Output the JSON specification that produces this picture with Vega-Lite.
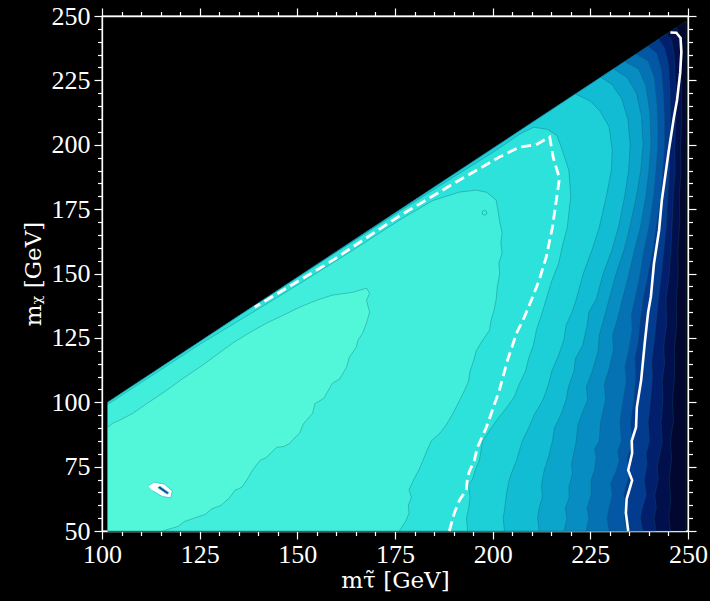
{
  "$schema": "https://vega.github.io/schema/vega-lite/v6.json",
  "background": "black",
  "autosize": "none",
  "padding": {"left": 102, "top": 16, "right": 22, "bottom": 70},
  "width": 586,
  "height": 515,
  "config": {
    "view": {"stroke": "white", "strokeWidth": 1.3},
    "axis": {
      "grid": false,
      "domainColor": "white",
      "domainWidth": 1.3,
      "tickColor": "white",
      "tickWidth": 1.2,
      "labelColor": "white",
      "labelFont": "Liberation Serif",
      "labelFontSize": 26,
      "titleColor": "white",
      "titleFont": "DejaVu Serif",
      "titleFontSize": 23,
      "titleFontWeight": "normal",
      "labelOverlap": false,
      "labelFlush": false,
      "format": "d"
    }
  },
  "datasets": {
    "bands": [
      {"band": "L12", "i": 0, "x": 101.5, "y": 50}, {"band": "L12", "i": 1, "x": 249.5, "y": 50}, {"band": "L12", "i": 2, "x": 249.5, "y": 248}, {"band": "L12", "i": 3, "x": 101.5, "y": 100},

      {"band": "L11", "i": 0, "x": 101.5, "y": 50}, {"band": "L11", "i": 1, "x": 245.5, "y": 50}, {"band": "L11", "i": 2, "x": 245.1, "y": 56}, {"band": "L11", "i": 3, "x": 245.6, "y": 62}, {"band": "L11", "i": 4, "x": 245.2, "y": 70}, {"band": "L11", "i": 5, "x": 245.8, "y": 78}, {"band": "L11", "i": 6, "x": 245.5, "y": 85}, {"band": "L11", "i": 7, "x": 246.3, "y": 93}, {"band": "L11", "i": 8, "x": 246, "y": 101}, {"band": "L11", "i": 9, "x": 246.6, "y": 110}, {"band": "L11", "i": 10, "x": 246.5, "y": 120}, {"band": "L11", "i": 11, "x": 247.1, "y": 130}, {"band": "L11", "i": 12, "x": 247, "y": 140}, {"band": "L11", "i": 13, "x": 247.5, "y": 150}, {"band": "L11", "i": 14, "x": 247.4, "y": 159}, {"band": "L11", "i": 15, "x": 247.9, "y": 170}, {"band": "L11", "i": 16, "x": 247.8, "y": 180}, {"band": "L11", "i": 17, "x": 248.2, "y": 190}, {"band": "L11", "i": 18, "x": 248.1, "y": 200}, {"band": "L11", "i": 19, "x": 248.4, "y": 210}, {"band": "L11", "i": 20, "x": 248.3, "y": 220}, {"band": "L11", "i": 21, "x": 248.2, "y": 234}, {"band": "L11", "i": 22, "x": 247.8, "y": 241}, {"band": "L11", "i": 23, "x": 247.2, "y": 245.2}, {"band": "L11", "i": 24, "x": 246.6, "y": 245.1}, {"band": "L11", "i": 25, "x": 101.5, "y": 100},

      {"band": "L10", "i": 0, "x": 101.5, "y": 50}, {"band": "L10", "i": 1, "x": 241.8, "y": 50}, {"band": "L10", "i": 2, "x": 241.3, "y": 55}, {"band": "L10", "i": 3, "x": 241.9, "y": 59}, {"band": "L10", "i": 4, "x": 241.5, "y": 64}, {"band": "L10", "i": 5, "x": 242.4, "y": 70}, {"band": "L10", "i": 6, "x": 242.1, "y": 75}, {"band": "L10", "i": 7, "x": 242.8, "y": 80}, {"band": "L10", "i": 8, "x": 243.4, "y": 85}, {"band": "L10", "i": 9, "x": 243.1, "y": 92}, {"band": "L10", "i": 10, "x": 243.6, "y": 101}, {"band": "L10", "i": 11, "x": 243.4, "y": 108}, {"band": "L10", "i": 12, "x": 244, "y": 115}, {"band": "L10", "i": 13, "x": 243.8, "y": 122}, {"band": "L10", "i": 14, "x": 244.5, "y": 130}, {"band": "L10", "i": 15, "x": 244.4, "y": 140}, {"band": "L10", "i": 16, "x": 245.1, "y": 148}, {"band": "L10", "i": 17, "x": 245.6, "y": 159}, {"band": "L10", "i": 18, "x": 245.9, "y": 168}, {"band": "L10", "i": 19, "x": 246.2, "y": 180}, {"band": "L10", "i": 20, "x": 246.7, "y": 190}, {"band": "L10", "i": 21, "x": 246.6, "y": 200}, {"band": "L10", "i": 22, "x": 246.9, "y": 211}, {"band": "L10", "i": 23, "x": 246.8, "y": 222}, {"band": "L10", "i": 24, "x": 246.5, "y": 234}, {"band": "L10", "i": 25, "x": 245.8, "y": 240.5}, {"band": "L10", "i": 26, "x": 244.5, "y": 243}, {"band": "L10", "i": 27, "x": 101.5, "y": 100},

      {"band": "L9", "i": 0, "x": 101.5, "y": 50}, {"band": "L9", "i": 1, "x": 238.4, "y": 50}, {"band": "L9", "i": 2, "x": 237.8, "y": 55}, {"band": "L9", "i": 3, "x": 238.3, "y": 59}, {"band": "L9", "i": 4, "x": 239.3, "y": 64}, {"band": "L9", "i": 5, "x": 238.8, "y": 69.7}, {"band": "L9", "i": 6, "x": 239.5, "y": 76}, {"band": "L9", "i": 7, "x": 239.3, "y": 80}, {"band": "L9", "i": 8, "x": 240.1, "y": 85}, {"band": "L9", "i": 9, "x": 239.8, "y": 92}, {"band": "L9", "i": 10, "x": 240.4, "y": 101}, {"band": "L9", "i": 11, "x": 240.9, "y": 110}, {"band": "L9", "i": 12, "x": 240.7, "y": 116}, {"band": "L9", "i": 13, "x": 241.4, "y": 124}, {"band": "L9", "i": 14, "x": 241.9, "y": 132}, {"band": "L9", "i": 15, "x": 242.4, "y": 140}, {"band": "L9", "i": 16, "x": 243.2, "y": 150}, {"band": "L9", "i": 17, "x": 243.8, "y": 159}, {"band": "L9", "i": 18, "x": 244.4, "y": 168}, {"band": "L9", "i": 19, "x": 244.8, "y": 180}, {"band": "L9", "i": 20, "x": 245.2, "y": 190}, {"band": "L9", "i": 21, "x": 245.3, "y": 200}, {"band": "L9", "i": 22, "x": 245.5, "y": 210}, {"band": "L9", "i": 23, "x": 245.4, "y": 220}, {"band": "L9", "i": 24, "x": 245, "y": 231}, {"band": "L9", "i": 25, "x": 244, "y": 237.5}, {"band": "L9", "i": 26, "x": 242.5, "y": 241}, {"band": "L9", "i": 27, "x": 101.5, "y": 100},

      {"band": "L8", "i": 0, "x": 101.5, "y": 50}, {"band": "L8", "i": 1, "x": 234.5, "y": 50}, {"band": "L8", "i": 2, "x": 233.6, "y": 55}, {"band": "L8", "i": 3, "x": 234.1, "y": 59}, {"band": "L8", "i": 4, "x": 233.5, "y": 64}, {"band": "L8", "i": 5, "x": 234.9, "y": 72}, {"band": "L8", "i": 6, "x": 234.4, "y": 78}, {"band": "L8", "i": 7, "x": 235.7, "y": 85}, {"band": "L8", "i": 8, "x": 235.3, "y": 92}, {"band": "L8", "i": 9, "x": 236.1, "y": 101}, {"band": "L8", "i": 10, "x": 236.6, "y": 110}, {"band": "L8", "i": 11, "x": 236.4, "y": 117}, {"band": "L8", "i": 12, "x": 237.3, "y": 124}, {"band": "L8", "i": 13, "x": 237.8, "y": 132}, {"band": "L8", "i": 14, "x": 238.5, "y": 140}, {"band": "L8", "i": 15, "x": 239.8, "y": 150}, {"band": "L8", "i": 16, "x": 241, "y": 159}, {"band": "L8", "i": 17, "x": 241.8, "y": 168}, {"band": "L8", "i": 18, "x": 243, "y": 180}, {"band": "L8", "i": 19, "x": 243.5, "y": 190}, {"band": "L8", "i": 20, "x": 244, "y": 200}, {"band": "L8", "i": 21, "x": 244, "y": 209}, {"band": "L8", "i": 22, "x": 243.8, "y": 218}, {"band": "L8", "i": 23, "x": 243.2, "y": 229}, {"band": "L8", "i": 24, "x": 242, "y": 235.5}, {"band": "L8", "i": 25, "x": 239.8, "y": 238.3}, {"band": "L8", "i": 26, "x": 101.5, "y": 100},

      {"band": "L7", "i": 0, "x": 101.5, "y": 50}, {"band": "L7", "i": 1, "x": 229.8, "y": 50}, {"band": "L7", "i": 2, "x": 229.3, "y": 55}, {"band": "L7", "i": 3, "x": 229.8, "y": 59}, {"band": "L7", "i": 4, "x": 230.6, "y": 64}, {"band": "L7", "i": 5, "x": 230.2, "y": 68.5}, {"band": "L7", "i": 6, "x": 231.5, "y": 73}, {"band": "L7", "i": 7, "x": 232.4, "y": 77.4}, {"band": "L7", "i": 8, "x": 232, "y": 81}, {"band": "L7", "i": 9, "x": 232.9, "y": 85}, {"band": "L7", "i": 10, "x": 232.6, "y": 93}, {"band": "L7", "i": 11, "x": 233.4, "y": 101}, {"band": "L7", "i": 12, "x": 234.2, "y": 108}, {"band": "L7", "i": 13, "x": 233.9, "y": 114}, {"band": "L7", "i": 14, "x": 234.8, "y": 120}, {"band": "L7", "i": 15, "x": 235.7, "y": 128}, {"band": "L7", "i": 16, "x": 235.5, "y": 134}, {"band": "L7", "i": 17, "x": 236.4, "y": 140}, {"band": "L7", "i": 18, "x": 237.8, "y": 150}, {"band": "L7", "i": 19, "x": 238.7, "y": 159}, {"band": "L7", "i": 20, "x": 240, "y": 168}, {"band": "L7", "i": 21, "x": 241.2, "y": 180}, {"band": "L7", "i": 22, "x": 241.8, "y": 190}, {"band": "L7", "i": 23, "x": 242.3, "y": 200}, {"band": "L7", "i": 24, "x": 242.3, "y": 208}, {"band": "L7", "i": 25, "x": 242.1, "y": 215}, {"band": "L7", "i": 26, "x": 241.4, "y": 226}, {"band": "L7", "i": 27, "x": 239.8, "y": 232.5}, {"band": "L7", "i": 28, "x": 236.7, "y": 235.2}, {"band": "L7", "i": 29, "x": 101.5, "y": 100},

      {"band": "L6", "i": 0, "x": 101.5, "y": 50}, {"band": "L6", "i": 1, "x": 223.9, "y": 50}, {"band": "L6", "i": 2, "x": 224.6, "y": 55}, {"band": "L6", "i": 3, "x": 224.2, "y": 59}, {"band": "L6", "i": 4, "x": 225.2, "y": 64}, {"band": "L6", "i": 5, "x": 225.2, "y": 69.7}, {"band": "L6", "i": 6, "x": 226.1, "y": 74}, {"band": "L6", "i": 7, "x": 226.5, "y": 78.6}, {"band": "L6", "i": 8, "x": 226.1, "y": 82}, {"band": "L6", "i": 9, "x": 227.3, "y": 85}, {"band": "L6", "i": 10, "x": 227.6, "y": 92}, {"band": "L6", "i": 11, "x": 228.9, "y": 101}, {"band": "L6", "i": 12, "x": 228.6, "y": 107}, {"band": "L6", "i": 13, "x": 229.8, "y": 113}, {"band": "L6", "i": 14, "x": 230.9, "y": 120}, {"band": "L6", "i": 15, "x": 230.7, "y": 126}, {"band": "L6", "i": 16, "x": 231.9, "y": 132}, {"band": "L6", "i": 17, "x": 233.2, "y": 140}, {"band": "L6", "i": 18, "x": 234.9, "y": 150}, {"band": "L6", "i": 19, "x": 236.3, "y": 159}, {"band": "L6", "i": 20, "x": 237.8, "y": 168}, {"band": "L6", "i": 21, "x": 239.2, "y": 180}, {"band": "L6", "i": 22, "x": 240, "y": 190}, {"band": "L6", "i": 23, "x": 240.5, "y": 200}, {"band": "L6", "i": 24, "x": 240.4, "y": 207}, {"band": "L6", "i": 25, "x": 240.2, "y": 213}, {"band": "L6", "i": 26, "x": 239.2, "y": 223}, {"band": "L6", "i": 27, "x": 237.3, "y": 229.5}, {"band": "L6", "i": 28, "x": 233.8, "y": 232.3}, {"band": "L6", "i": 29, "x": 101.5, "y": 100},

      {"band": "L5", "i": 0, "x": 101.5, "y": 50}, {"band": "L5", "i": 1, "x": 218.3, "y": 50}, {"band": "L5", "i": 2, "x": 219, "y": 55}, {"band": "L5", "i": 3, "x": 218.6, "y": 59}, {"band": "L5", "i": 4, "x": 219.6, "y": 63}, {"band": "L5", "i": 5, "x": 219.5, "y": 67}, {"band": "L5", "i": 6, "x": 220.4, "y": 72}, {"band": "L5", "i": 7, "x": 220.2, "y": 76}, {"band": "L5", "i": 8, "x": 221.4, "y": 85}, {"band": "L5", "i": 9, "x": 221.8, "y": 91}, {"band": "L5", "i": 10, "x": 223, "y": 96}, {"band": "L5", "i": 11, "x": 224.3, "y": 101}, {"band": "L5", "i": 12, "x": 224, "y": 106}, {"band": "L5", "i": 13, "x": 225.5, "y": 112}, {"band": "L5", "i": 14, "x": 227, "y": 120}, {"band": "L5", "i": 15, "x": 227.3, "y": 126}, {"band": "L5", "i": 16, "x": 228.4, "y": 132}, {"band": "L5", "i": 17, "x": 229.8, "y": 140}, {"band": "L5", "i": 18, "x": 231.6, "y": 150}, {"band": "L5", "i": 19, "x": 233.6, "y": 159}, {"band": "L5", "i": 20, "x": 235.1, "y": 168}, {"band": "L5", "i": 21, "x": 236.8, "y": 180}, {"band": "L5", "i": 22, "x": 237.9, "y": 190}, {"band": "L5", "i": 23, "x": 238.5, "y": 200}, {"band": "L5", "i": 24, "x": 238.1, "y": 211}, {"band": "L5", "i": 25, "x": 236.8, "y": 220}, {"band": "L5", "i": 26, "x": 234.5, "y": 226}, {"band": "L5", "i": 27, "x": 231, "y": 229.5}, {"band": "L5", "i": 28, "x": 101.5, "y": 100},

      {"band": "L4", "i": 0, "x": 101.5, "y": 50}, {"band": "L4", "i": 1, "x": 211.9, "y": 50}, {"band": "L4", "i": 2, "x": 211.5, "y": 55}, {"band": "L4", "i": 3, "x": 211.9, "y": 59}, {"band": "L4", "i": 4, "x": 212.7, "y": 63}, {"band": "L4", "i": 5, "x": 212.5, "y": 68}, {"band": "L4", "i": 6, "x": 213.2, "y": 73.6}, {"band": "L4", "i": 7, "x": 214.5, "y": 80}, {"band": "L4", "i": 8, "x": 215.3, "y": 85}, {"band": "L4", "i": 9, "x": 215.8, "y": 90}, {"band": "L4", "i": 10, "x": 217.4, "y": 95}, {"band": "L4", "i": 11, "x": 218.8, "y": 101}, {"band": "L4", "i": 12, "x": 219.4, "y": 106}, {"band": "L4", "i": 13, "x": 220.8, "y": 112}, {"band": "L4", "i": 14, "x": 221.2, "y": 117}, {"band": "L4", "i": 15, "x": 223, "y": 122}, {"band": "L4", "i": 16, "x": 224.2, "y": 130}, {"band": "L4", "i": 17, "x": 224.6, "y": 135}, {"band": "L4", "i": 18, "x": 226.5, "y": 140}, {"band": "L4", "i": 19, "x": 228.3, "y": 150}, {"band": "L4", "i": 20, "x": 230.5, "y": 159}, {"band": "L4", "i": 21, "x": 232.2, "y": 168}, {"band": "L4", "i": 22, "x": 233.8, "y": 180}, {"band": "L4", "i": 23, "x": 234.8, "y": 190}, {"band": "L4", "i": 24, "x": 235.2, "y": 200}, {"band": "L4", "i": 25, "x": 234.6, "y": 210}, {"band": "L4", "i": 26, "x": 233, "y": 218}, {"band": "L4", "i": 27, "x": 230.5, "y": 223.5}, {"band": "L4", "i": 28, "x": 227.7, "y": 226.2}, {"band": "L4", "i": 29, "x": 101.5, "y": 100},

      {"band": "L3", "i": 0, "x": 101.5, "y": 50}, {"band": "L3", "i": 1, "x": 203, "y": 50}, {"band": "L3", "i": 2, "x": 202.7, "y": 55}, {"band": "L3", "i": 3, "x": 203.1, "y": 59}, {"band": "L3", "i": 4, "x": 203.5, "y": 64}, {"band": "L3", "i": 5, "x": 204.1, "y": 69}, {"band": "L3", "i": 6, "x": 204.8, "y": 72.4}, {"band": "L3", "i": 7, "x": 206.1, "y": 77.4}, {"band": "L3", "i": 8, "x": 207.6, "y": 85}, {"band": "L3", "i": 9, "x": 209.2, "y": 90}, {"band": "L3", "i": 10, "x": 210.6, "y": 95}, {"band": "L3", "i": 11, "x": 212.9, "y": 101}, {"band": "L3", "i": 12, "x": 214.3, "y": 107}, {"band": "L3", "i": 13, "x": 215.1, "y": 112}, {"band": "L3", "i": 14, "x": 216.8, "y": 118}, {"band": "L3", "i": 15, "x": 218.2, "y": 124}, {"band": "L3", "i": 16, "x": 218.8, "y": 130}, {"band": "L3", "i": 17, "x": 220.3, "y": 135}, {"band": "L3", "i": 18, "x": 221.4, "y": 140}, {"band": "L3", "i": 19, "x": 223.2, "y": 150}, {"band": "L3", "i": 20, "x": 225.4, "y": 159}, {"band": "L3", "i": 21, "x": 227.3, "y": 168}, {"band": "L3", "i": 22, "x": 229.1, "y": 180}, {"band": "L3", "i": 23, "x": 230.4, "y": 190}, {"band": "L3", "i": 24, "x": 230.6, "y": 198}, {"band": "L3", "i": 25, "x": 229.8, "y": 207}, {"band": "L3", "i": 26, "x": 227.5, "y": 213}, {"band": "L3", "i": 27, "x": 225, "y": 217}, {"band": "L3", "i": 28, "x": 221.2, "y": 219.7}, {"band": "L3", "i": 29, "x": 101.5, "y": 100},

      {"band": "L2", "i": 0, "x": 101.5, "y": 50}, {"band": "L2", "i": 1, "x": 193.6, "y": 50}, {"band": "L2", "i": 2, "x": 193.3, "y": 55}, {"band": "L2", "i": 3, "x": 193.9, "y": 59.2}, {"band": "L2", "i": 4, "x": 194.2, "y": 63}, {"band": "L2", "i": 5, "x": 193.8, "y": 68}, {"band": "L2", "i": 6, "x": 194.8, "y": 70}, {"band": "L2", "i": 7, "x": 195.8, "y": 74.7}, {"band": "L2", "i": 8, "x": 196.6, "y": 77.4}, {"band": "L2", "i": 9, "x": 197.4, "y": 85}, {"band": "L2", "i": 10, "x": 199.2, "y": 89}, {"band": "L2", "i": 11, "x": 201.5, "y": 94}, {"band": "L2", "i": 12, "x": 203.6, "y": 98}, {"band": "L2", "i": 13, "x": 205.5, "y": 102}, {"band": "L2", "i": 14, "x": 206.8, "y": 107}, {"band": "L2", "i": 15, "x": 208.4, "y": 112}, {"band": "L2", "i": 16, "x": 209.2, "y": 117}, {"band": "L2", "i": 17, "x": 210.4, "y": 122}, {"band": "L2", "i": 18, "x": 211.2, "y": 128}, {"band": "L2", "i": 19, "x": 212.5, "y": 134}, {"band": "L2", "i": 20, "x": 213.7, "y": 140}, {"band": "L2", "i": 21, "x": 215.1, "y": 147}, {"band": "L2", "i": 22, "x": 216.9, "y": 154}, {"band": "L2", "i": 23, "x": 217.9, "y": 161}, {"band": "L2", "i": 24, "x": 219.1, "y": 168}, {"band": "L2", "i": 25, "x": 219.6, "y": 175}, {"band": "L2", "i": 26, "x": 220, "y": 180}, {"band": "L2", "i": 27, "x": 219.5, "y": 190}, {"band": "L2", "i": 28, "x": 217.8, "y": 198}, {"band": "L2", "i": 29, "x": 216.5, "y": 203.5}, {"band": "L2", "i": 30, "x": 214, "y": 206}, {"band": "L2", "i": 31, "x": 210.5, "y": 206.8}, {"band": "L2", "i": 32, "x": 207, "y": 204.2}, {"band": "L2", "i": 33, "x": 200, "y": 197}, {"band": "L2", "i": 34, "x": 190, "y": 187.5}, {"band": "L2", "i": 35, "x": 176, "y": 174}, {"band": "L2", "i": 36, "x": 160, "y": 158.3}, {"band": "L2", "i": 37, "x": 145, "y": 143.4}, {"band": "L2", "i": 38, "x": 135, "y": 133.5}, {"band": "L2", "i": 39, "x": 101.5, "y": 100},

      {"band": "L1", "i": 0, "x": 101.5, "y": 50}, {"band": "L1", "i": 1, "x": 176.1, "y": 50}, {"band": "L1", "i": 2, "x": 177.8, "y": 54}, {"band": "L1", "i": 3, "x": 178.6, "y": 57}, {"band": "L1", "i": 4, "x": 178.4, "y": 60}, {"band": "L1", "i": 5, "x": 179.2, "y": 63}, {"band": "L1", "i": 6, "x": 178.6, "y": 66}, {"band": "L1", "i": 7, "x": 179.8, "y": 70}, {"band": "L1", "i": 8, "x": 181.2, "y": 74}, {"band": "L1", "i": 9, "x": 182.3, "y": 78}, {"band": "L1", "i": 10, "x": 183.4, "y": 82}, {"band": "L1", "i": 11, "x": 184.3, "y": 85}, {"band": "L1", "i": 12, "x": 186.5, "y": 88}, {"band": "L1", "i": 13, "x": 188, "y": 91}, {"band": "L1", "i": 14, "x": 189.6, "y": 95}, {"band": "L1", "i": 15, "x": 191.3, "y": 100}, {"band": "L1", "i": 16, "x": 192.6, "y": 104}, {"band": "L1", "i": 17, "x": 193.8, "y": 108}, {"band": "L1", "i": 18, "x": 194.2, "y": 112}, {"band": "L1", "i": 19, "x": 195.1, "y": 116}, {"band": "L1", "i": 20, "x": 195.8, "y": 120}, {"band": "L1", "i": 21, "x": 197.4, "y": 124}, {"band": "L1", "i": 22, "x": 199.2, "y": 128}, {"band": "L1", "i": 23, "x": 199.6, "y": 132}, {"band": "L1", "i": 24, "x": 200.4, "y": 136}, {"band": "L1", "i": 25, "x": 200.9, "y": 140}, {"band": "L1", "i": 26, "x": 201.2, "y": 145}, {"band": "L1", "i": 27, "x": 201.8, "y": 150}, {"band": "L1", "i": 28, "x": 201.6, "y": 154}, {"band": "L1", "i": 29, "x": 202.4, "y": 158}, {"band": "L1", "i": 30, "x": 202.1, "y": 162}, {"band": "L1", "i": 31, "x": 202.4, "y": 166}, {"band": "L1", "i": 32, "x": 201.8, "y": 170}, {"band": "L1", "i": 33, "x": 201.4, "y": 174}, {"band": "L1", "i": 34, "x": 200.9, "y": 178.5}, {"band": "L1", "i": 35, "x": 198.5, "y": 181.5}, {"band": "L1", "i": 36, "x": 195.8, "y": 182.4}, {"band": "L1", "i": 37, "x": 191.5, "y": 181.6}, {"band": "L1", "i": 38, "x": 184.6, "y": 178.3}, {"band": "L1", "i": 39, "x": 180.5, "y": 174.6}, {"band": "L1", "i": 40, "x": 176.1, "y": 170.7}, {"band": "L1", "i": 41, "x": 165, "y": 159.8}, {"band": "L1", "i": 42, "x": 150, "y": 145.5}, {"band": "L1", "i": 43, "x": 139, "y": 135.3}, {"band": "L1", "i": 44, "x": 125, "y": 122.5}, {"band": "L1", "i": 45, "x": 101.5, "y": 99.2},

      {"band": "L0", "i": 0, "x": 101.5, "y": 50}, {"band": "L0", "i": 1, "x": 115.5, "y": 50}, {"band": "L0", "i": 2, "x": 119.5, "y": 51.8}, {"band": "L0", "i": 3, "x": 121, "y": 53.6}, {"band": "L0", "i": 4, "x": 123.2, "y": 54.8}, {"band": "L0", "i": 5, "x": 126.5, "y": 56.5}, {"band": "L0", "i": 6, "x": 128, "y": 58.5}, {"band": "L0", "i": 7, "x": 130.5, "y": 60}, {"band": "L0", "i": 8, "x": 132.7, "y": 63}, {"band": "L0", "i": 9, "x": 134, "y": 65.8}, {"band": "L0", "i": 10, "x": 135.8, "y": 67}, {"band": "L0", "i": 11, "x": 137, "y": 69.7}, {"band": "L0", "i": 12, "x": 138.5, "y": 73.5}, {"band": "L0", "i": 13, "x": 140.4, "y": 77.4}, {"band": "L0", "i": 14, "x": 142, "y": 78.5}, {"band": "L0", "i": 15, "x": 144.7, "y": 82.5}, {"band": "L0", "i": 16, "x": 146.5, "y": 82.8}, {"band": "L0", "i": 17, "x": 148, "y": 84}, {"band": "L0", "i": 18, "x": 149.5, "y": 86.5}, {"band": "L0", "i": 19, "x": 150.6, "y": 88}, {"band": "L0", "i": 20, "x": 151.5, "y": 91.5}, {"band": "L0", "i": 21, "x": 153.9, "y": 95.7}, {"band": "L0", "i": 22, "x": 154.5, "y": 99.5}, {"band": "L0", "i": 23, "x": 156.8, "y": 101.5}, {"band": "L0", "i": 24, "x": 157.5, "y": 103.5}, {"band": "L0", "i": 25, "x": 159, "y": 107.4}, {"band": "L0", "i": 26, "x": 160.8, "y": 109}, {"band": "L0", "i": 27, "x": 162.6, "y": 113.6}, {"band": "L0", "i": 28, "x": 163.3, "y": 117.5}, {"band": "L0", "i": 29, "x": 165.1, "y": 121.4}, {"band": "L0", "i": 30, "x": 165.5, "y": 124}, {"band": "L0", "i": 31, "x": 166.7, "y": 126.8}, {"band": "L0", "i": 32, "x": 167.7, "y": 130.7}, {"band": "L0", "i": 33, "x": 168.5, "y": 135}, {"band": "L0", "i": 34, "x": 167.7, "y": 139.6}, {"band": "L0", "i": 35, "x": 168.5, "y": 142.3}, {"band": "L0", "i": 36, "x": 167.7, "y": 144.3}, {"band": "L0", "i": 37, "x": 164.2, "y": 142.7}, {"band": "L0", "i": 38, "x": 159, "y": 141.6}, {"band": "L0", "i": 39, "x": 154.9, "y": 139.6}, {"band": "L0", "i": 40, "x": 150.6, "y": 136.9}, {"band": "L0", "i": 41, "x": 146, "y": 133.5}, {"band": "L0", "i": 42, "x": 142.1, "y": 130.7}, {"band": "L0", "i": 43, "x": 137.5, "y": 126.8}, {"band": "L0", "i": 44, "x": 133.4, "y": 122.9}, {"band": "L0", "i": 45, "x": 129, "y": 118}, {"band": "L0", "i": 46, "x": 125, "y": 113.6}, {"band": "L0", "i": 47, "x": 120.5, "y": 109}, {"band": "L0", "i": 48, "x": 116.5, "y": 104.6}, {"band": "L0", "i": 49, "x": 112, "y": 100}, {"band": "L0", "i": 50, "x": 107.9, "y": 95.7}, {"band": "L0", "i": 51, "x": 104.5, "y": 93}, {"band": "L0", "i": 52, "x": 102.7, "y": 91.8}, {"band": "L0", "i": 53, "x": 101.5, "y": 90.3}
    ],
    "dashed": [
      {"i": 0, "x": 188.9, "y": 50}, {"i": 1, "x": 190.2, "y": 57}, {"i": 2, "x": 191.5, "y": 62}, {"i": 3, "x": 193.3, "y": 66}, {"i": 4, "x": 193.5, "y": 70}, {"i": 5, "x": 194, "y": 73}, {"i": 6, "x": 195.3, "y": 77.4}, {"i": 7, "x": 196.1, "y": 82.5}, {"i": 8, "x": 198.4, "y": 90.3}, {"i": 9, "x": 201.7, "y": 104.6}, {"i": 10, "x": 203.8, "y": 116.3}, {"i": 11, "x": 206.1, "y": 126.8}, {"i": 12, "x": 208.1, "y": 133}, {"i": 13, "x": 209.9, "y": 139.6}, {"i": 14, "x": 211.9, "y": 147.4}, {"i": 15, "x": 213.7, "y": 156.3}, {"i": 16, "x": 215.3, "y": 168}, {"i": 17, "x": 216.3, "y": 178.5}, {"i": 18, "x": 217.1, "y": 187}, {"i": 19, "x": 215.5, "y": 195}, {"i": 20, "x": 214.6, "y": 203}, {"i": 21, "x": 211.1, "y": 200}, {"i": 22, "x": 206.8, "y": 199.1}, {"i": 23, "x": 201.7, "y": 195.2}, {"i": 24, "x": 191.5, "y": 186.3}, {"i": 25, "x": 176.1, "y": 172.3}, {"i": 26, "x": 158.3, "y": 154.4}, {"i": 27, "x": 139.1, "y": 136.9}
    ],
    "solid": [
      {"i": 0, "x": 234.7, "y": 50}, {"i": 1, "x": 234.1, "y": 57}, {"i": 2, "x": 234.3, "y": 62.5}, {"i": 3, "x": 235.7, "y": 69.7}, {"i": 4, "x": 234.7, "y": 73.6}, {"i": 5, "x": 235.7, "y": 80.2}, {"i": 6, "x": 235.6, "y": 85}, {"i": 7, "x": 236.7, "y": 90.3}, {"i": 8, "x": 236.9, "y": 98}, {"i": 9, "x": 238, "y": 108.5}, {"i": 10, "x": 239, "y": 124}, {"i": 11, "x": 239.8, "y": 135}, {"i": 12, "x": 240.5, "y": 141}, {"i": 13, "x": 241.3, "y": 154}, {"i": 14, "x": 242.6, "y": 166.8}, {"i": 15, "x": 243.3, "y": 178.5}, {"i": 16, "x": 245.1, "y": 197.9}, {"i": 17, "x": 246.4, "y": 210.7}, {"i": 18, "x": 247.2, "y": 217.4}, {"i": 19, "x": 248, "y": 228}, {"i": 20, "x": 248.3, "y": 236}, {"i": 21, "x": 248.1, "y": 241.5}, {"i": 22, "x": 247, "y": 243.5}, {"i": 23, "x": 245.5, "y": 243.6}
    ],
    "blob": [
      {"part": "outer", "i": 0, "x": 111.8, "y": 67.5}, {"part": "outer", "i": 1, "x": 113.3, "y": 69}, {"part": "outer", "i": 2, "x": 116, "y": 68.2}, {"part": "outer", "i": 3, "x": 118, "y": 65.5}, {"part": "outer", "i": 4, "x": 117.6, "y": 62.9}, {"part": "outer", "i": 5, "x": 115.4, "y": 63.4}, {"part": "outer", "i": 6, "x": 113, "y": 65.6},
      {"part": "inner", "i": 0, "x": 114.3, "y": 66.8}, {"part": "inner", "i": 1, "x": 116.7, "y": 64.3}, {"part": "inner", "i": 2, "x": 117.1, "y": 64.9}, {"part": "inner", "i": 3, "x": 114.8, "y": 67.4}
    ],
    "loop": [
      {"x": 197.9, "y": 173.6}
    ]
  },
  "layer": [
    {
      "data": {"name": "bands"},
      "mark": {"type": "line", "stroke": "#0d5a66", "strokeWidth": 0.6, "strokeOpacity": 0.55, "interpolate": "linear"},
      "encoding": {
        "x": {
          "field": "x", "type": "quantitative",
          "scale": {"domain": [100, 250], "nice": false, "zero": false},
          "axis": {
            "orient": "bottom",
            "title": "mτ̃ [GeV]",
            "titlePadding": 2,
            "values": [100, 105, 110, 115, 120, 125, 130, 135, 140, 145, 150, 155, 160, 165, 170, 175, 180, 185, 190, 195, 200, 205, 210, 215, 220, 225, 230, 235, 240, 245, 250],
            "labelExpr": "datum.value % 25 === 0 ? datum.label : ''",
            "tickSize": {"condition": {"test": "datum.value % 25 === 0", "value": 8}, "value": 4.5},
            "labelPadding": 2
          }
        },
        "y": {
          "field": "y", "type": "quantitative",
          "scale": {"domain": [50, 250], "nice": false, "zero": false},
          "axis": {
            "orient": "left",
            "title": "mᵪ [GeV]",
            "titlePadding": 6,
            "values": [50, 55, 60, 65, 70, 75, 80, 85, 90, 95, 100, 105, 110, 115, 120, 125, 130, 135, 140, 145, 150, 155, 160, 165, 170, 175, 180, 185, 190, 195, 200, 205, 210, 215, 220, 225, 230, 235, 240, 245, 250],
            "labelExpr": "datum.value % 25 === 0 ? datum.label : ''",
            "tickSize": {"condition": {"test": "datum.value % 25 === 0", "value": 8}, "value": 4.5},
            "labelPadding": 4
          }
        },
        "order": {"field": "i", "type": "quantitative"},
        "detail": {"field": "band", "type": "nominal"},
        "fill": {
          "field": "band", "type": "nominal",
          "scale": {
            "domain": ["L0", "L1", "L2", "L3", "L4", "L5", "L6", "L7", "L8", "L9", "L10", "L11", "L12"],
            "range": ["#52f7d9", "#40eedb", "#2ce2db", "#1dd0d8", "#12bcd3", "#0ba5cb", "#078dc1", "#0572b4", "#0457a4", "#033b8f", "#021f6e", "#010f4c", "#01072e"]
          },
          "legend": null
        }
      }
    },
    {
      "data": {"name": "blob"},
      "mark": {"type": "line", "stroke": "#27c8d0", "strokeWidth": 0.8},
      "encoding": {
        "x": {"field": "x", "type": "quantitative", "axis": null},
        "y": {"field": "y", "type": "quantitative", "axis": null},
        "order": {"field": "i", "type": "quantitative"},
        "detail": {"field": "part", "type": "nominal"},
        "fill": {"field": "part", "type": "nominal", "scale": {"domain": ["outer", "inner"], "range": ["#ffffff", "#1b3f8a"]}, "legend": null}
      }
    },
    {
      "data": {"name": "loop"},
      "mark": {"type": "point", "shape": "circle", "size": 22, "filled": false, "stroke": "#159aa6", "strokeWidth": 0.9},
      "encoding": {
        "x": {"field": "x", "type": "quantitative", "axis": null},
        "y": {"field": "y", "type": "quantitative", "axis": null}
      }
    },
    {
      "data": {"name": "dashed"},
      "mark": {"type": "line", "stroke": "white", "strokeWidth": 2.8, "strokeDash": [10, 5]},
      "encoding": {
        "x": {"field": "x", "type": "quantitative", "axis": null},
        "y": {"field": "y", "type": "quantitative", "axis": null},
        "order": {"field": "i", "type": "quantitative"}
      }
    },
    {
      "data": {"name": "solid"},
      "mark": {"type": "line", "stroke": "white", "strokeWidth": 2.6},
      "encoding": {
        "x": {
          "field": "x", "type": "quantitative",
          "axis": {
            "orient": "top", "title": null, "labels": false,
            "values": [100, 105, 110, 115, 120, 125, 130, 135, 140, 145, 150, 155, 160, 165, 170, 175, 180, 185, 190, 195, 200, 205, 210, 215, 220, 225, 230, 235, 240, 245, 250],
            "tickSize": {"condition": {"test": "datum.value % 25 === 0", "value": 8}, "value": 4.5}
          }
        },
        "y": {
          "field": "y", "type": "quantitative",
          "axis": {
            "orient": "right", "title": null, "labels": false,
            "values": [50, 55, 60, 65, 70, 75, 80, 85, 90, 95, 100, 105, 110, 115, 120, 125, 130, 135, 140, 145, 150, 155, 160, 165, 170, 175, 180, 185, 190, 195, 200, 205, 210, 215, 220, 225, 230, 235, 240, 245, 250],
            "tickSize": {"condition": {"test": "datum.value % 25 === 0", "value": 8}, "value": 4.5}
          }
        },
        "order": {"field": "i", "type": "quantitative"}
      }
    }
  ],
  "resolve": {"axis": {"x": "independent", "y": "independent"}, "scale": {"fill": "independent"}}
}
